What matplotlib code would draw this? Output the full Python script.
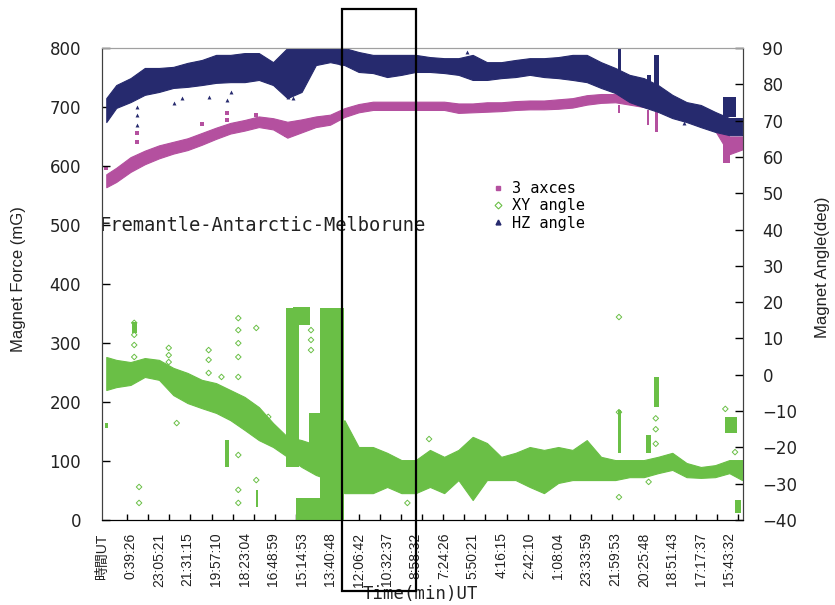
import matplotlib.pyplot as plt
import matplotlib.patches as patches
from matplotlib.lines import Line2D
import numpy as np

plt.rcParams['font.family'] = ['DejaVu Sans', 'Noto Sans CJK JP']
narrow = ['Liberation Sans Narrow', 'Liberation Sans', 'Noto Sans CJK JP']

# x position in units of the time labels (0 = first label "時間UT")
u = [0.15, 0.5, 1.0, 1.5, 2.0, 2.5, 3.0, 3.5, 4.0, 4.5,
     5.0, 5.5, 6.0, 6.5, 7.0, 7.5, 8.0, 8.5, 9.0, 9.5,
     10.0, 10.5, 11.0, 11.5, 12.0, 12.5, 13.0, 13.5, 14.0, 14.5,
     15.0, 15.5, 16.0, 16.5, 17.0, 17.5, 18.0, 18.5, 19.0, 19.5,
     20.0, 20.5, 21.0, 21.5, 22.0, 22.45]

time_labels = ['時間UT', '0:39:26', '23:05:21', '21:31:15', '19:57:10', '18:23:04',
               '16:48:59', '15:14:53', '13:40:48', '12:06:42', '10:32:37', '8:58:32',
               '7:24:26', '5:50:21', '4:16:15', '2:42:10', '1:08:04', '23:33:59',
               '21:59:53', '20:25:48', '18:51:43', '17:17:37', '15:43:32']

# 3 axces (mG) - band low / high
force_lo = [564, 573, 590, 603, 613, 621, 627, 636, 646, 655,
            660, 666, 662, 648, 657, 666, 670, 683, 691, 695,
            695, 695, 695, 695, 695, 690, 691, 692, 693, 695,
            696, 696, 697, 699, 704, 707, 708, 704, 700, 695,
            690, 682, 673, 660, 620, 628]
force_hi = [586, 597, 615, 626, 635, 641, 647, 656, 665, 673,
            678, 684, 681, 675, 679, 684, 687, 698, 705, 709,
            709, 709, 709, 709, 709, 706, 706, 708, 708, 710,
            711, 711, 713, 715, 720, 722, 722, 720, 716, 711,
            706, 698, 689, 678, 650, 650]

# XY angle (deg) - band low / high
xy_lo = [-4.2, -3.4, -2.8, -0.6, -1.4, -5.6, -7.8, -9.2, -10.5, -12.5,
         -15.2, -18.0, -19.9, -22.6, -25.4, -27.6, -29.0, -32.6, -32.6, -32.6,
         -30.9, -32.6, -32.6, -30.9, -32.6, -29.0, -34.5, -29.0, -29.0, -29.0,
         -30.9, -32.6, -29.8, -29.0, -29.0, -29.0, -29.0, -28.2, -28.2, -27.1,
         -26.2, -28.2, -28.4, -28.2, -27.1, -29.0]
xy_hi = [4.9, 4.1, 3.5, 4.6, 4.1, 1.9, 0.5, -1.4, -2.3, -4.2,
         -6.1, -8.9, -13.3, -17.1, -18.0, -19.3, -20.7, -12.5, -19.9, -19.9,
         -21.5, -23.5, -23.5, -20.7, -22.6, -20.7, -17.1, -18.8, -22.6, -21.5,
         -19.9, -20.7, -19.9, -20.7, -18.0, -22.6, -23.5, -23.5, -23.5, -22.6,
         -21.5, -24.3, -25.4, -24.9, -23.5, -23.5]

# HZ angle (deg) - band low / high
hz_lo = [69.6, 73.5, 75.1, 77.1, 77.9, 79.0, 79.3, 79.8, 80.4, 80.6,
         80.6, 81.2, 79.8, 76.2, 77.9, 85.3, 86.1, 85.3, 83.4, 83.1,
         82.0, 82.6, 83.4, 83.4, 83.1, 82.6, 81.2, 81.2, 81.7, 82.0,
         82.6, 82.0, 81.7, 81.2, 80.6, 79.0, 77.6, 75.1, 73.7, 72.4,
         70.7, 69.6, 68.2, 66.9, 66.0, 66.0]
hz_hi = [76.2, 79.8, 81.7, 84.5, 84.5, 84.8, 85.9, 86.7, 88.1, 88.1,
         88.6, 88.6, 86.1, 90.0, 90.0, 90.0, 90.0, 90.0, 88.9, 88.1,
         88.1, 88.1, 88.1, 87.5, 87.2, 87.2, 88.1, 86.1, 86.1, 86.7,
         87.2, 87.2, 87.5, 88.1, 88.1, 86.1, 84.5, 82.6, 81.7, 79.8,
         77.1, 75.1, 74.3, 72.4, 70.7, 70.7]

# bursts (x start, x end, low, high)
force_burst_x0 = [19.39, 19.10, 21.79, 18.10]
force_burst_x1 = [19.50, 19.20, 22.03, 18.17]
force_burst_lo = [658, 670, 605, 690]
force_burst_hi = [692, 695, 644, 703]

xy_burst_x0 = [6.46, 6.70, 6.80, 7.26, 7.64, 21.86, 22.20, 19.35, 19.07, 18.10, 1.06, 0.12, 4.31, 5.41]
xy_burst_x1 = [6.91, 7.30, 7.67, 7.67, 8.48, 22.27, 22.41, 19.52, 19.24, 18.20, 1.23, 0.22, 4.44, 5.47]
xy_burst_lo = [-25.4, 13.7, -40.0, -23.5, -40.0, -16.0, -38.1, -8.9, -21.5, -21.5, 11.5, -14.7, -25.4, -36.4]
xy_burst_hi = [18.4, 18.7, -33.9, -10.5, 18.4, -11.6, -34.5, -0.6, -16.6, -9.7, 14.5, -13.3, -18.0, -31.7]

hz_burst_x0 = [18.09, 19.35, 19.10, 21.79]
hz_burst_x1 = [18.20, 19.52, 19.24, 22.24]
hz_burst_lo = [83.4, 79.0, 79.0, 71.0]
hz_burst_hi = [90.0, 88.1, 82.6, 76.5]

# isolated points
force_pt_x = [1.23, 1.23, 0.15, 3.5, 4.37, 4.37, 5.41, 6.46]
force_pt_y = [656, 641, 597, 671, 690, 678, 686, 653]

xy_pt_x = [1.13, 1.13, 1.13, 1.13, 1.30, 1.30, 2.34, 2.34, 2.34, 2.62, 3.74, 3.74, 3.74, 4.19,
           4.78, 4.78, 4.78, 4.78, 4.78, 4.78, 4.78, 4.78, 5.41, 5.41, 5.83, 7.33, 7.33, 7.33,
           18.13, 18.13, 10.71, 11.47, 21.86, 22.2, 19.17, 18.13, 19.42, 19.42, 19.42]
xy_pt_y = [14.3, 11.0, 8.2, 4.9, -30.9, -35.3, 7.4, 5.4, 3.5, -13.3, 6.8, 4.1, 0.5, -0.6,
           15.6, 12.3, 8.7, 4.9, -0.6, -22.1, -31.7, -35.3, 12.9, -29.0, -11.6, 12.3, 9.6, 6.8,
           15.9, -33.7, -35.3, -17.7, -9.4, -21.3, -29.5, -10.3, -12.0, -15.0, -19.0]

hz_pt_x = [1.23, 1.23, 1.23, 2.52, 2.8, 3.75, 4.37, 4.51, 6.53, 6.7, 8.38, 12.8, 20.4, 22.14]
hz_pt_y = [73.7, 71.5, 68.8, 74.8, 76.2, 76.5, 75.7, 77.9, 76.5, 76.2, 85.9, 88.9, 69.3, 66.9]

pink = '#b4509f'
green = '#6abf46'
navy = '#262a6e'

fig = plt.figure(figsize=(8.35, 6.05), dpi=100)
ax = fig.add_axes([102 / 835, 85 / 605, 641 / 835, 472 / 605])
ax2 = ax.twinx()

# 3 axces on the force axis
ax.fill_between(u, force_lo, force_hi, color=pink, lw=0.8, edgecolor=pink)
ax.bar(force_burst_x0, np.subtract(force_burst_hi, force_burst_lo),
       width=np.subtract(force_burst_x1, force_burst_x0), bottom=force_burst_lo,
       align='edge', color=pink)
ax.scatter(force_pt_x, force_pt_y, marker='s', s=5, color=pink, lw=0)

# XY angle / HZ angle on the angle axis
ax2.fill_between(u, xy_lo, xy_hi, color=green, lw=0.8, edgecolor=green)
ax2.bar(xy_burst_x0, np.subtract(xy_burst_hi, xy_burst_lo),
        width=np.subtract(xy_burst_x1, xy_burst_x0), bottom=xy_burst_lo,
        align='edge', color=green)
ax2.scatter(xy_pt_x, xy_pt_y, marker='D', s=8, facecolors='none', edgecolors=green, lw=0.7)

ax2.fill_between(u, hz_lo, hz_hi, color=navy, lw=0.8, edgecolor=navy)
ax2.bar(hz_burst_x0, np.subtract(hz_burst_hi, hz_burst_lo),
        width=np.subtract(hz_burst_x1, hz_burst_x0), bottom=hz_burst_lo,
        align='edge', color=navy)
ax2.scatter(hz_pt_x, hz_pt_y, marker='^', s=8, color=navy, lw=0)

# axes
ax.set_xlim(0.15, 22.48)
ax.set_ylim(0, 800)
ax2.set_ylim(-40, 90)
ax.set_yticks(range(0, 801, 100))
ax2.set_yticks(range(-40, 91, 10))
ax.set_xticks(range(len(time_labels)))
ax.set_xticklabels(time_labels, rotation=90, family=narrow)
ax.set_xticks(np.arange(0.885, 22.48, 0.739), minor=True)

txt = '#222222'
ax.tick_params(axis='y', direction='in', length=6, width=1, labelsize=12, pad=15, labelcolor=txt)
ax2.tick_params(axis='y', direction='in', length=6, width=1, labelsize=12, pad=14, labelcolor=txt)
ax.tick_params(axis='x', which='major', length=0, labelsize=10, pad=9, labelcolor=txt)
ax.tick_params(axis='x', which='minor', direction='in', length=4, width=1)

for a in (ax, ax2):
    a.spines['top'].set_color('#a0a0a0')
    a.spines['left'].set_color('#404040')
    a.spines['right'].set_color('#404040')
    a.spines['bottom'].set_color('black')

ax.set_ylabel('Magnet Force (mG)', fontsize=12, family=narrow, color=txt)
ax.yaxis.set_label_coords(-0.118, 0.51)
ax2.set_ylabel('Magnet Angle(deg)', fontsize=12, family=narrow, color=txt)
ax2.yaxis.set_label_coords(1.112, 0.535)
ax.set_xlabel('Time(min)UT', fontsize=12.5, family='DejaVu Sans Mono', color=txt)
ax.xaxis.set_label_coords(0.496, -0.138)

ax.text(-0.003, 0.623, 'Fremantle-Antarctic-Melborune', transform=ax.transAxes,
        fontsize=13.5, family='DejaVu Sans Mono', va='center', ha='left', color=txt)

handles = [Line2D([], [], ls='', marker='s', ms=3, color=pink),
           Line2D([], [], ls='', marker='D', ms=3.5, mfc='none', mec=green, mew=0.8),
           Line2D([], [], ls='', marker='^', ms=3.5, color=navy)]
ax2.legend(handles, ['3 axces', 'XY angle', 'HZ angle'], loc='upper left',
           bbox_to_anchor=(0.608, 0.718), frameon=False, handlelength=0.8,
           handletextpad=0.5, labelspacing=0.15, borderpad=0, borderaxespad=0,
           prop={'family': 'DejaVu Sans Mono', 'size': 11})

# highlight box spanning the plot
rect = patches.Rectangle((342 / 835, 1 - 591 / 605), 74 / 835, 582 / 605,
                         transform=fig.transFigure, fill=False, lw=1.6,
                         edgecolor='black', zorder=10)
fig.add_artist(rect)

fig.savefig('out.png', dpi=100)
